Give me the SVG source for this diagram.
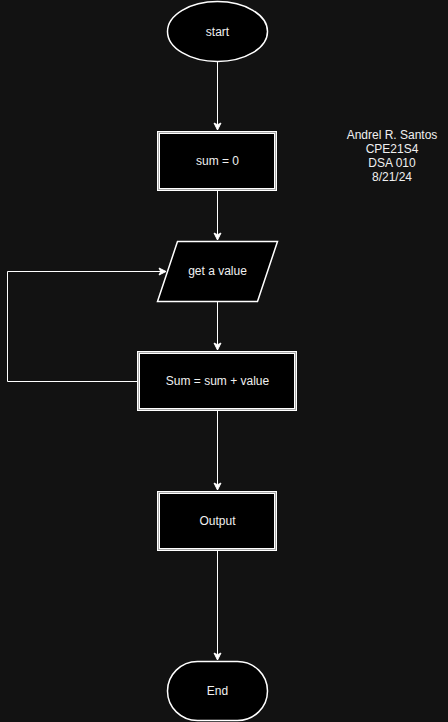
<svg xmlns="http://www.w3.org/2000/svg" width="448" height="722" viewBox="0 0 448 722">
<style>
.bg{fill:#121212}
.shape{fill:#000;stroke:#fff;stroke-width:1.5}
.box{fill:#000;stroke:#fff;stroke-width:3}
.inner{fill:none;stroke:#a8a8a8;stroke-width:1}
.lbl{font-family:"Liberation Sans",Arial,sans-serif;font-size:12px;fill:#f0f0f0;text-anchor:middle}
.edge{fill:none;stroke:#fff;stroke-width:1}
</style>
<defs>
<marker id="arr" markerWidth="10" markerHeight="10" viewBox="-8 -5 10 10" refX="0" refY="0" orient="auto" markerUnits="userSpaceOnUse">
<path d="M0,0 L-7,-3.5 L-5.25,0 L-7,3.5 Z" fill="#fff" stroke="#fff" stroke-width="1"/>
</marker>
</defs>
<rect class="bg" x="0" y="0" width="448" height="722"/>
<g id="connectors">
<path class="edge" d="M217.5,61 V130" marker-end="url(#arr)"/>
<path class="edge" d="M217.5,191 V240" marker-end="url(#arr)"/>
<path class="edge" d="M217.5,301 V350" marker-end="url(#arr)"/>
<path class="edge" d="M217.5,411 V490" marker-end="url(#arr)"/>
<path class="edge" d="M217.5,551 V660" marker-end="url(#arr)"/>
<path class="edge" d="M137,381.5 H7.5 V271.5 H166" marker-end="url(#arr)"/>
</g>
<g id="start">
<ellipse class="shape" cx="217.5" cy="31.5" rx="50" ry="30"/>
<text class="lbl" x="217.5" y="35.5">start</text>
</g>
<g id="sum0">
<rect class="box" x="158.5" y="132.5" width="117" height="57"/>
<rect class="inner" x="158.5" y="132.5" width="117" height="57"/>
<text class="lbl" x="217.5" y="165">sum = 0</text>
</g>
<g id="getvalue">
<polygon class="shape" points="177.5,241.5 277.5,241.5 257.5,301.5 157.5,301.5"/>
<text class="lbl" x="217.5" y="275">get a value</text>
</g>
<g id="sumcalc">
<rect class="box" x="138.5" y="352.5" width="157" height="57"/>
<rect class="inner" x="138.5" y="352.5" width="157" height="57"/>
<text class="lbl" x="217.5" y="385">Sum = sum + value</text>
</g>
<g id="output">
<rect class="box" x="158.5" y="492.5" width="117" height="57"/>
<rect class="inner" x="158.5" y="492.5" width="117" height="57"/>
<text class="lbl" x="217.5" y="525">Output</text>
</g>
<g id="end">
<rect class="shape" x="167.5" y="661.5" width="100" height="59" rx="30" ry="30"/>
<text class="lbl" x="217.5" y="695">End</text>
</g>
<g id="note">
<text class="lbl" x="392" y="139">Andrel R. Santos</text>
<text class="lbl" x="392" y="153">CPE21S4</text>
<text class="lbl" x="392" y="167">DSA 010</text>
<text class="lbl" x="392" y="181">8/21/24</text>
</g>
</svg>
